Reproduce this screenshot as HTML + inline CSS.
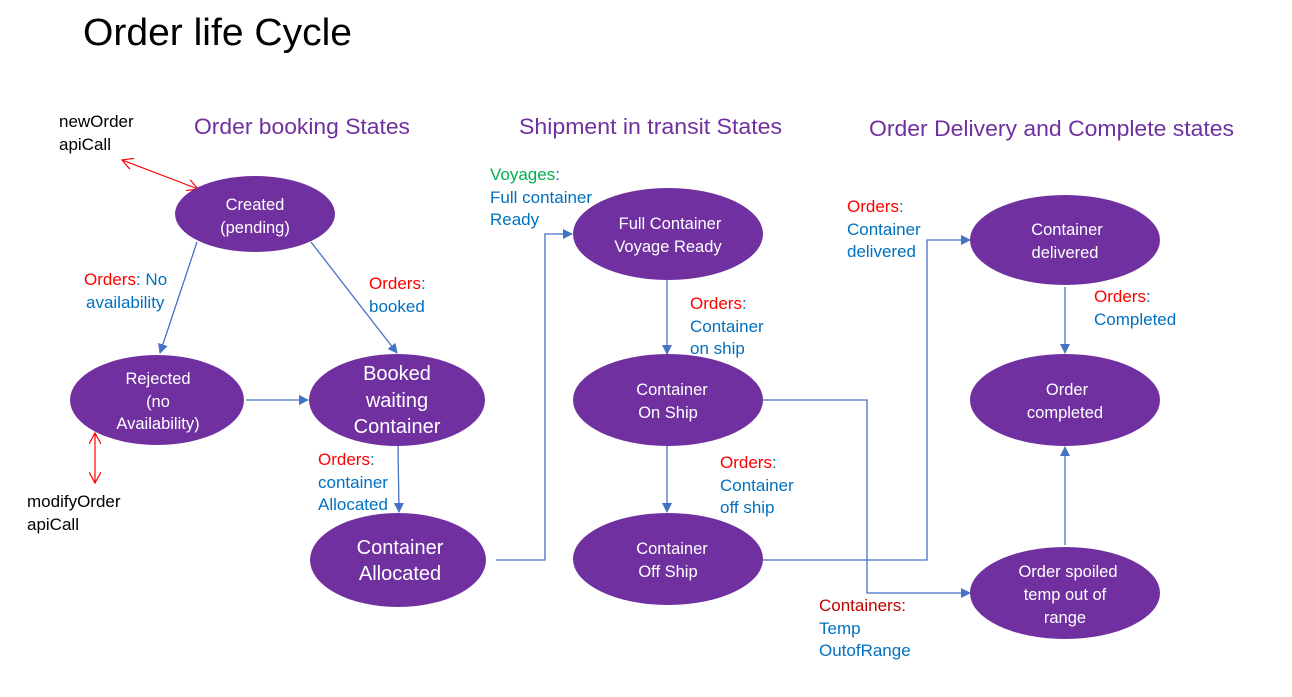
<!DOCTYPE html>
<html><head><meta charset="utf-8"><style>
html,body{margin:0;padding:0;background:#fff;}
svg text{font-family:"Liberation Sans",sans-serif;}
</style></head><body>
<svg width="1292" height="692" viewBox="0 0 1292 692" xmlns="http://www.w3.org/2000/svg">
<defs>
<marker id="b" markerWidth="10" markerHeight="10" refX="9" refY="5" orient="auto" markerUnits="userSpaceOnUse"><path d="M0,0 L10,5 L0,10 z" fill="#4472c4"/></marker>
<marker id="r" markerWidth="12" markerHeight="12" refX="11" refY="6" orient="auto-start-reverse" markerUnits="userSpaceOnUse"><path d="M0,0 L11,6 L0,12" fill="none" stroke="#ff0000" stroke-width="1.2"/></marker>
</defs>
<text x="83" y="45" font-size="38" fill="#000" textLength="269" lengthAdjust="spacingAndGlyphs">Order life Cycle</text>
<g font-size="22" fill="#7030a0">
<text x="194" y="134" textLength="216" lengthAdjust="spacingAndGlyphs">Order booking States</text>
<text x="519" y="134" textLength="263" lengthAdjust="spacingAndGlyphs">Shipment in transit States</text>
<text x="869" y="136" textLength="365" lengthAdjust="spacingAndGlyphs">Order Delivery and Complete states</text>
</g>
<g stroke="#4472c4" stroke-width="1.3" fill="none" marker-end="url(#b)">
<line x1="197" y1="242" x2="160" y2="353"/>
<line x1="311" y1="242" x2="397" y2="353"/>
<line x1="246" y1="400" x2="308" y2="400"/>
<line x1="398" y1="446" x2="399" y2="512"/>
<polyline points="496,560 545,560 545,234 572,234"/>
<line x1="667" y1="280" x2="667" y2="354"/>
<line x1="667" y1="446" x2="667" y2="512"/>
<polyline points="763,400 867,400 867,593 970,593"/>
<polyline points="763,560 927,560 927,240 970,240"/>
<line x1="1065" y1="287" x2="1065" y2="353"/>
<line x1="1065" y1="545" x2="1065" y2="447"/>
</g>
<g stroke="#ff0000" stroke-width="1.2">
<line x1="122" y1="160" x2="198" y2="189" marker-start="url(#r)" marker-end="url(#r)"/>
<line x1="95" y1="433" x2="95" y2="483" marker-start="url(#r)" marker-end="url(#r)"/>
</g>
<g fill="#7030a0">
<ellipse cx="255" cy="214" rx="80" ry="38"/>
<ellipse cx="157" cy="400" rx="87" ry="45"/>
<ellipse cx="397" cy="400" rx="88" ry="46"/>
<ellipse cx="398" cy="560" rx="88" ry="47"/>
<ellipse cx="668" cy="234" rx="95" ry="46"/>
<ellipse cx="668" cy="400" rx="95" ry="46"/>
<ellipse cx="668" cy="559" rx="95" ry="46"/>
<ellipse cx="1065" cy="240" rx="95" ry="45"/>
<ellipse cx="1065" cy="400" rx="95" ry="46"/>
<ellipse cx="1065" cy="593" rx="95" ry="46"/>
</g>
<g fill="#fff" font-size="16.5" text-anchor="middle">
<text x="255" y="210">Created</text><text x="255" y="233">(pending)</text>
<text x="158" y="384">Rejected</text><text x="158" y="407">(no</text><text x="158" y="429">Availability)</text>
<g font-size="20"><text x="397" y="380">Booked</text><text x="397" y="407">waiting</text><text x="397" y="433">Container</text>
<text x="400" y="554">Container</text><text x="400" y="580">Allocated</text></g>
<text x="670" y="229">Full Container</text><text x="668" y="252">Voyage Ready</text>
<text x="672" y="395">Container</text><text x="668" y="418">On Ship</text>
<text x="672" y="554">Container</text><text x="668" y="577">Off  Ship</text>
<text x="1067" y="235">Container</text><text x="1065" y="258">delivered</text>
<text x="1067" y="395">Order</text><text x="1065" y="418">completed</text>
<text x="1068" y="577">Order spoiled</text><text x="1065" y="600">temp out of</text><text x="1065" y="623">range</text>
</g>
<g font-size="17">
<text x="59" y="127" fill="#000">newOrder</text><text x="59" y="150" fill="#000">apiCall</text>
<text x="27" y="507" fill="#000">modifyOrder</text><text x="27" y="530" fill="#000">apiCall</text>
<text x="84" y="285"><tspan fill="#ff0000">Orders</tspan><tspan fill="#0070c0">: No</tspan></text>
<text x="86" y="308" fill="#0070c0">availability</text>
<text x="369" y="289"><tspan fill="#ff0000">Orders</tspan><tspan fill="#0070c0">:</tspan></text>
<text x="369" y="312" fill="#0070c0">booked</text>
<text x="318" y="465"><tspan fill="#ff0000">Orders</tspan><tspan fill="#0070c0">:</tspan></text>
<text x="318" y="488" fill="#0070c0">container</text><text x="318" y="510" fill="#0070c0">Allocated</text>
<text x="490" y="180"><tspan fill="#00b050">Voyages</tspan><tspan fill="#0070c0">:</tspan></text>
<text x="490" y="203" fill="#0070c0">Full container</text><text x="490" y="225" fill="#0070c0">Ready</text>
<text x="690" y="309"><tspan fill="#ff0000">Orders</tspan><tspan fill="#0070c0">:</tspan></text>
<text x="690" y="332" fill="#0070c0">Container</text><text x="690" y="354" fill="#0070c0">on ship</text>
<text x="720" y="468"><tspan fill="#ff0000">Orders</tspan><tspan fill="#0070c0">:</tspan></text>
<text x="720" y="491" fill="#0070c0">Container</text><text x="720" y="513" fill="#0070c0">off ship</text>
<text x="847" y="212"><tspan fill="#ff0000">Orders</tspan><tspan fill="#0070c0">:</tspan></text>
<text x="847" y="235" fill="#0070c0">Container</text><text x="847" y="257" fill="#0070c0">delivered</text>
<text x="1094" y="302"><tspan fill="#ff0000">Orders</tspan><tspan fill="#0070c0">:</tspan></text>
<text x="1094" y="325" fill="#0070c0">Completed</text>
<text x="819" y="611" fill="#c00000">Containers:</text>
<text x="819" y="634" fill="#0070c0">Temp</text><text x="819" y="656" fill="#0070c0">OutofRange</text>
</g>
</svg>
</body></html>
